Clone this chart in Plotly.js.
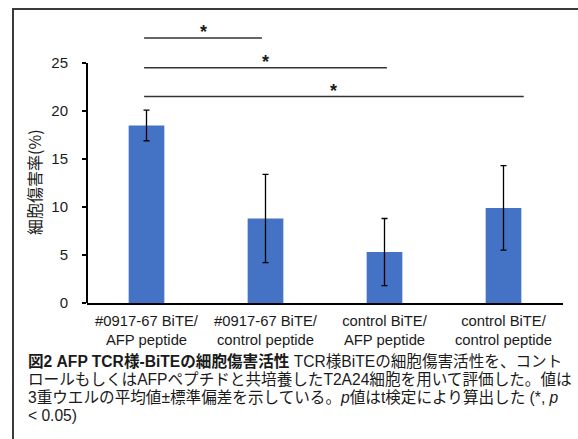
<!DOCTYPE html>
<html>
<head>
<meta charset="utf-8">
<script src="https://cdn.plot.ly/plotly-3.0.1.min.js"></script>
<style>
  html, body { margin: 0; padding: 0; background: #ffffff; }
  #chart { width: 578px; height: 439px; }
</style>
</head>
<body>
<div id="chart"></div>
<script>
// Cytotoxicity of TCR-like BiTE against T2A24 cells pulsed with peptide
const categories = [
  "#0917-67 BiTE/<br>AFP peptide",
  "#0917-67 BiTE/<br>control peptide",
  "control BiTE/<br>AFP peptide",
  "control BiTE/<br>control peptide"
];
const cytotoxicity = [18.5, 8.8, 5.3, 9.9];   // mean, %
const stdDev = [1.6, 4.6, 3.5, 4.4];          // SD of triplicate wells
const yTickValues = [0, 5, 10, 15, 20, 25];

// significance brackets: [from category, to category], label, bracket height (%)
const sigPairs = [[0, 1], [0, 2], [0, 3]];
const sigLabels = ["*", "*", "*"];
const sigHeights = [27.6, 24.5, 21.5];

// figure caption, one entry per printed line
const captionLines = [
  "<b>図2 AFP TCR様-BiTEの細胞傷害活性</b> TCR様BiTEの細胞傷害活性を、コント",
  "ロールもしくはAFPペプチドと共培養したT2A24細胞を用いて評価した。値は",
  "3重ウエルの平均値±標準偏差を示している。<i>p</i>値はt検定により算出した (*, <i>p</i>",
  "&lt; 0.05)"
];

const FONT = "Liberation Sans, Arial, 'Noto Sans CJK JP', sans-serif";
const TEXT = "#1a1a1a";

// line-end trims so the brackets sit like the original artwork
const bracketStartPad = -0.02;
const bracketEndPad = [-0.03, 0.02, 0.17];

// plot box geometry (px) used to place paper-referenced items
const W = 578, H = 439, ML = 87, MR = 15, MT = 15, MB = 136;
const PW = W - ML - MR, PH = H - MT - MB;
const px2x = function (px) { return (px - ML) / PW; };
const px2y = function (py) { return (H - MB - py) / PH; };

const shapes = [];
const annotations = [];

// y axis line only spans the tick range
shapes.push({
  type: "line", xref: "paper", yref: "y",
  x0: 0, x1: 0, y0: 0, y1: yTickValues[yTickValues.length - 1],
  line: { color: "#000000", width: 2 }
});

sigPairs.forEach(function (p, i) {
  const x0 = p[0] + bracketStartPad;
  const x1 = p[1] + bracketEndPad[i];
  shapes.push({
    type: "line", xref: "x", yref: "y",
    x0: x0, x1: x1, y0: sigHeights[i], y1: sigHeights[i],
    line: { color: "#333333", width: 1.5 }
  });
  annotations.push({
    xref: "x", yref: "y", x: (x0 + x1) / 2, y: sigHeights[i],
    text: "<b>" + sigLabels[i] + "</b>", showarrow: false,
    xanchor: "center", yanchor: "bottom", yshift: -6,
    font: { family: FONT, size: 18, color: TEXT }
  });
});

// outer frame of the figure
shapes.push({
  type: "rect", xref: "paper", yref: "paper",
  x0: px2x(13), x1: px2x(585), y0: px2y(448), y1: px2y(9),
  line: { color: "#3a3a3a", width: 2 }, fillcolor: "rgba(0,0,0,0)"
});

// y axis title
annotations.push({
  xref: "paper", yref: "paper", x: px2x(34), y: px2y(182),
  text: "細胞傷害率(%)", textangle: -90, showarrow: false,
  xanchor: "center", yanchor: "middle",
  font: { family: "'Noto Sans CJK JP', " + FONT, size: 16, color: TEXT }
});

// caption lines
captionLines.forEach(function (line, i) {
  annotations.push({
    xref: "paper", yref: "paper", x: px2x(26), y: px2y(361 + i * 18.2),
    xanchor: "left", yanchor: "middle", align: "left", showarrow: false,
    text: line,
    font: { family: FONT, size: 15.6, color: TEXT }
  });
});

const trace = {
  type: "bar",
  x: categories,
  y: cytotoxicity,
  marker: { color: "#4472C4" },
  error_y: {
    type: "data", array: stdDev, visible: true,
    color: "#000000", thickness: 1.3, width: 3
  },
  hoverinfo: "skip"
};

const layout = {
  width: W, height: H,
  margin: { l: ML, r: MR, t: MT, b: MB },
  paper_bgcolor: "#ffffff", plot_bgcolor: "#ffffff",
  showlegend: false,
  bargap: 0.7,
  font: { family: FONT, size: 14, color: TEXT },
  xaxis: {
    type: "category",
    showline: true, linecolor: "#000000", linewidth: 2,
    ticks: "", showgrid: false, zeroline: false,
    tickfont: { family: FONT, size: 14.8, color: TEXT },
    ticklabelstandoff: 3
  },
  yaxis: {
    range: [0, 30],
    tickvals: yTickValues,
    ticktext: yTickValues.map(String),
    ticks: "outside", ticklen: 4, tickwidth: 2, tickcolor: "#000000",
    showline: false, showgrid: false, zeroline: false,
    tickfont: { family: FONT, size: 15, color: TEXT },
    ticklabelstandoff: 11
  },
  shapes: shapes,
  annotations: annotations
};

Plotly.newPlot("chart", [trace], layout, { displayModeBar: false, staticPlot: true });
</script>
</body>
</html>
